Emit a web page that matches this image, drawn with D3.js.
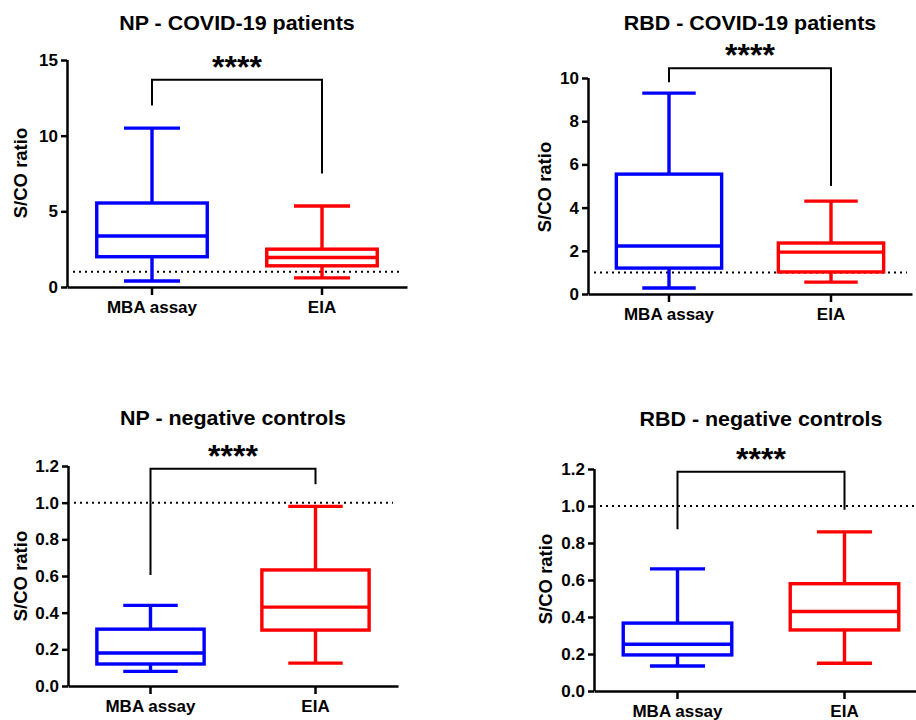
<!DOCTYPE html>
<html>
<head>
<meta charset="utf-8">
<script src="https://cdn.jsdelivr.net/npm/d3@7"></script>
<style>
  html, body { margin: 0; padding: 0; background: #fff; }
  svg { display: block; }
  text { font-family: "Liberation Sans", Arial, sans-serif; font-weight: bold; fill: #000; }
</style>
</head>
<body>
<svg id="chart" width="916" height="720"></svg>
<script>
// ---------------- data ----------------
const categories = ["MBA assay", "EIA"];
const panelTitles = ["NP - COVID-19 patients", "RBD - COVID-19 patients", "NP - negative controls", "RBD - negative controls"];
const yAxisLabel = "S/CO ratio";
const significance = "****";
const cutoff = 1.0;

const ticksNpCovid = [0, 5, 10, 15];
const ticksRbdCovid = [0, 2, 4, 6, 8, 10];
const ticksNeg = [0, 0.2, 0.4, 0.6, 0.8, 1.0, 1.2];

// box stats: [min, q1, median, q3, max]
const npCovidMBA = [0.4, 2.0, 3.37, 5.55, 10.5];
const npCovidEIA = [0.6, 1.4, 1.95, 2.5, 5.35];
const rbdCovidMBA = [0.28, 1.2, 2.22, 5.55, 9.3];
const rbdCovidEIA = [0.55, 1.02, 1.94, 2.36, 4.3];
const npNegMBA = [0.08, 0.12, 0.18, 0.31, 0.44];
const npNegEIA = [0.125, 0.305, 0.43, 0.633, 0.98];
const rbdNegMBA = [0.135, 0.195, 0.253, 0.367, 0.66];
const rbdNegEIA = [0.15, 0.33, 0.43, 0.58, 0.86];

// significance brackets: [bar level, left leg end, right leg end]
const npCovidBracket = [13.7, 12.0, 7.5];
const rbdCovidBracket = [10.45, 9.8, 5.0];
const npNegBracket = [1.185, 0.605, 1.1];
const rbdNegBracket = [1.185, 0.875, 0.98];

// ---------------- layout ----------------
const colors = ["#0000ff", "#ff0000"];
const panels = [
  { title: panelTitles[0], boxes: [npCovidMBA, npCovidEIA], bracket: npCovidBracket, ticks: ticksNpCovid, fmt: d3.format("d"),
    x0: 67, x1: 407, yBottom: 287, yTop: 60, titleY: 30, labelX: 27, labelY: 173 },
  { title: panelTitles[1], boxes: [rbdCovidMBA, rbdCovidEIA], bracket: rbdCovidBracket, ticks: ticksRbdCovid, fmt: d3.format("d"),
    x0: 588, x1: 912, yBottom: 294, yTop: 78, titleY: 30, labelX: 551, labelY: 187 },
  { title: panelTitles[2], boxes: [npNegMBA, npNegEIA], bracket: npNegBracket, ticks: ticksNeg, fmt: d3.format(".1f"),
    x0: 68, x1: 398, yBottom: 686, yTop: 466, titleY: 425, labelX: 27, labelY: 576 },
  { title: panelTitles[3], boxes: [rbdNegMBA, rbdNegEIA], bracket: rbdNegBracket, ticks: ticksNeg, fmt: d3.format(".1f"),
    x0: 594, x1: 928, yBottom: 691, yTop: 469, titleY: 426, labelX: 552, labelY: 579 }
];

const svg = d3.select("#chart");

panels.forEach(p => {
  const g = svg.append("g");
  const x = d3.scaleBand().domain(categories).range([p.x0, p.x1]).padding(0);
  const yMax = d3.max(p.ticks);
  const y = d3.scaleLinear().domain([0, yMax]).range([p.yBottom, p.yTop]);
  const bw = x.bandwidth();
  const boxW = bw * 0.65;
  const capW = bw * 0.33;

  // title
  g.append("text")
    .attr("transform", `translate(${(p.x0 + p.x1) / 2},${p.titleY}) scale(1.1,1)`)
    .attr("text-anchor", "middle").style("font-size", "19.5px")
    .text(p.title);

  // y label
  g.append("text")
    .attr("transform", `translate(${p.labelX},${p.labelY}) rotate(-90)`)
    .attr("text-anchor", "middle").style("font-size", "18.5px")
    .text(yAxisLabel);

  // cutoff dotted line
  g.append("line")
    .attr("x1", p.x0 + 6).attr("x2", p.x1 - 5)
    .attr("y1", y(cutoff)).attr("y2", y(cutoff))
    .attr("stroke", "#000").attr("stroke-width", 2)
    .attr("stroke-dasharray", "2,4");

  // boxes
  p.boxes.forEach((b, i) => {
    const cx = x(categories[i]) + bw / 2;
    const c = colors[i];
    const bg = g.append("g").attr("stroke", c).attr("stroke-width", 3.4).attr("fill", "none");
    bg.append("line").attr("x1", cx).attr("x2", cx).attr("y1", y(b[3])).attr("y2", y(b[4]));
    bg.append("line").attr("x1", cx).attr("x2", cx).attr("y1", y(b[1])).attr("y2", y(b[0]));
    bg.append("line").attr("x1", cx - capW / 2).attr("x2", cx + capW / 2).attr("y1", y(b[4])).attr("y2", y(b[4]));
    bg.append("line").attr("x1", cx - capW / 2).attr("x2", cx + capW / 2).attr("y1", y(b[0])).attr("y2", y(b[0]));
    bg.append("rect").attr("x", cx - boxW / 2).attr("width", boxW)
      .attr("y", y(b[3])).attr("height", y(b[1]) - y(b[3]))
      .attr("fill", "#fff");
    bg.append("line").attr("x1", cx - boxW / 2).attr("x2", cx + boxW / 2).attr("y1", y(b[2])).attr("y2", y(b[2]));
  });

  // axes
  const yAxis = g.append("g").attr("transform", `translate(${p.x0},0)`)
    .call(d3.axisLeft(y).tickValues(p.ticks).tickFormat(p.fmt).tickSize(6).tickSizeOuter(0).tickPadding(3));
  const xAxis = g.append("g").attr("transform", `translate(0,${p.yBottom})`)
    .call(d3.axisBottom(x).tickSize(8).tickSizeOuter(0).tickPadding(6));
  [yAxis, xAxis].forEach(a => {
    a.selectAll("path, line").attr("stroke", "#000").attr("stroke-width", 2.5);
    a.selectAll("text").style("font-size", "17px").style("font-family", "'Liberation Sans', Arial, sans-serif").style("font-weight", "bold").attr("fill", "#000");
  });
  yAxis.select(".domain").attr("d", `M0.5,${p.yBottom}V${p.yTop}`);

  // significance bracket
  const xl = x(categories[0]) + bw / 2, xr = x(categories[1]) + bw / 2;
  const br = p.bracket;
  g.append("path")
    .attr("d", `M${xl},${y(br[1])}V${y(br[0])}H${xr}V${y(br[2])}`)
    .attr("fill", "none").attr("stroke", "#000").attr("stroke-width", 2);
  g.append("text")
    .attr("x", (xl + xr) / 2).attr("y", y(br[0]) - 2)
    .attr("text-anchor", "middle").style("font-size", "32px")
    .text(significance);
});
</script>
</body>
</html>
